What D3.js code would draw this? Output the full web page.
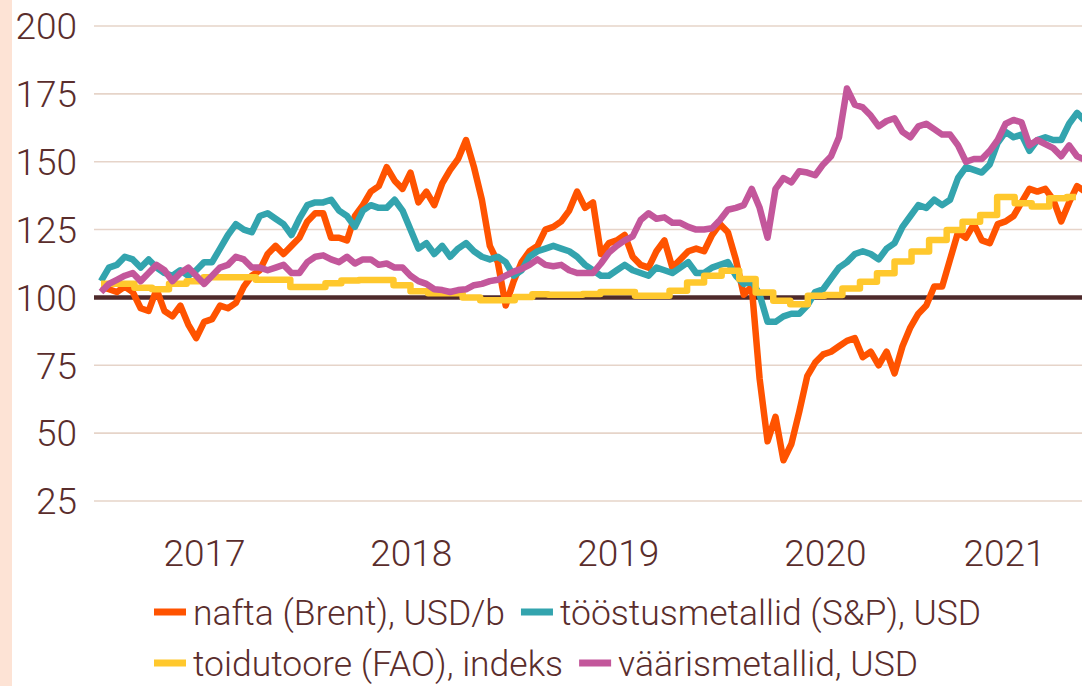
<!DOCTYPE html>
<html>
<head>
<meta charset="utf-8">
<script src="https://cdn.jsdelivr.net/npm/d3@7"></script>
<style>
  body { margin: 0; background: #ffffff; }
  svg { display: block; font-family: Roboto, "Noto Sans", sans-serif; font-weight: 300; }
</style>
</head>
<body>
<script>

// DATI

var startDate = "2017-01-01";
var stepDays = 14;

var oil = [104,103,102,104,102,96,95,103,95,93, 97,90,85,91,92,97,96,98,104,108,
  110,116,119,116,119,122,128,131,131,122, 122,121,130,134,139,141,148,143,140,146,
  135,139,134,142,147,151,158,148,136,119, 113,97,106,113,117,119,125,126,128,132,
  139,133,135,116,120,121,123,115,112,111, 117,121,111,114,117,118,117,123,127,124,
  114,101,104,70,47,56,40,46,58,71, 76,79,80,82,84,85,78,80,75,80,
  72,82,89,94,97,104,104,114,124,122, 127,121,120,127,128,130,135,140,139,140,
  136,128,135,141,139];

var metals = [106,111,112,115,114,111,114,111,109,108, 110,108,110,113,113,118,123,127,125,124,
  130,131,129,127,123,129,134,135,135,136, 132,130,126,132,134,133,133,136,132,125,
  118,120,116,119,115,118,120,117,115,114, 115,113,108,110,115,117,118,119,118,117,
  115,112,110,108,108,110,112,110,109,108, 111,110,109,111,113,109,109,111,112,113,
  108,105,106,101,91,91,93,94,94,97, 102,103,107,111,113,116,117,116,114,118,
  120,126,130,134,133,136,134,136,144,148, 147,146,149,157,161,159,160,154,158,159,
  158,158,164,168,165];

var precious = [102,105,106.5,108,109,106,109,112,110,106, 109,111,108,105,108,111,112,115,114,111,
  111,110,111,112,109,109,113,115,115.5,114, 113,115,112.5,114,114,112,112.5,111,111,108,
  106,105,103,102.7,102,102.7,103,104.5,105,106, 106.5,108,109.5,110.5,112,114,112,111.5,112,110,
  109,109,109,112.5,116.5,119,121,122.5,128.5,131, 129,129.5,127.5,127.5,126,125,125,125.5,128.5,132.3,
  133,134,140,133,122,140,144,142.4,146.5,146, 145,149,152,159,177,171,170,167,163,165,
  166,161,159,163,164,162,160,160,156,150, 151,151,154,158,164,165.4,164.5,156,158,156.5,
  155,152,156,152,150.7];

// FAO: valori mensili
var faoMonths = ["2017-01","2017-02","2017-03","2017-04","2017-05","2017-06","2017-07","2017-08","2017-09","2017-10","2017-11","2017-12",
  "2018-01","2018-02","2018-03","2018-04","2018-05","2018-06","2018-07","2018-08","2018-09","2018-10","2018-11","2018-12",
  "2019-01","2019-02","2019-03","2019-04","2019-05","2019-06","2019-07","2019-08","2019-09","2019-10","2019-11","2019-12",
  "2020-01","2020-02","2020-03","2020-04","2020-05","2020-06","2020-07","2020-08","2020-09","2020-10","2020-11","2020-12",
  "2021-01","2021-02","2021-03","2021-04","2021-05","2021-06","2021-07","2021-08","2021-09"];
var food = [105,105,103.6,103,105,106,107.4,107.4,107.4,106.5,106.5,103.8,
  103.8,105.2,106.2,106.4,106.4,104.5,102.3,101.5,101.5,100,99,99,
  100.2,101.2,101,101,101.3,102,102,100.6,100.6,102.5,105.5,108,
  109.8,106.8,101.8,98.8,97.5,100.6,100.9,103.3,105.8,108.9,113.2,116.9,
  121.2,124.8,127.9,130.4,137,134.7,133.5,136.5,137];
var foodEnd = "2021-09-17";

var yTicks = [25, 50, 75, 100, 125, 150, 175, 200];
var years = [2017, 2018, 2019, 2020, 2021];

var seriesNames = ["nafta (Brent), USD/b", "tööstusmetallid (S&P), USD", "toidutoore (FAO), indeks", "väärismetallid, USD"];
var seriesColors = ["#ff5300", "#33a4ae", "#ffc82d", "#c3579b"];

var textColor = "#5a2d2c";

// SVG

var width = 1082, height = 686;

var svg = d3.select("body")
    .append("svg")
    .attr("width", width)
    .attr("height", height);

// striscia rosa a sinistra
svg.append("rect")
    .attr("x", 0).attr("y", 0)
    .attr("width", 12).attr("height", height)
    .attr("fill", "#fde3d5");

// SCALE

var parseDay = d3.timeParse("%Y-%m-%d");
var parseMonth = d3.timeParse("%Y-%m");

var x = d3.scaleTime()
    .domain([new Date(2017, 0, 1), new Date(2022, 0, 1)])
    .range([101, 1136]);

var y = d3.scaleLinear()
    .domain([25, 200])
    .range([501, 26]);

var start = parseDay(startDate);
var dates = oil.map(function(d, i) { return d3.timeDay.offset(start, i * stepDays); });

// GRIGLIA + ETICHETTE Y

svg.append("g")
    .selectAll("line")
    .data(yTicks.filter(function(d) { return d !== 100; }))
    .join("line")
    .attr("x1", 94).attr("x2", width)
    .attr("y1", function(d) { return y(d); })
    .attr("y2", function(d) { return y(d); })
    .attr("stroke", "#e6d4c9")
    .attr("stroke-width", 1.6);

svg.append("g")
    .selectAll("text")
    .data(yTicks)
    .join("text")
    .attr("x", 77)
    .attr("y", function(d) { return y(d); })
    .attr("dy", "0.36em")
    .attr("text-anchor", "end")
    .attr("font-size", "37px")
    .attr("fill", textColor)
    .text(function(d) { return d; });

// linea 100
svg.append("line")
    .attr("x1", 94).attr("x2", width)
    .attr("y1", y(100)).attr("y2", y(100))
    .attr("stroke", "#4e2a2b")
    .attr("stroke-width", 4.5);

// LINEE

var line = d3.line()
    .x(function(d) { return x(d[0]); })
    .y(function(d) { return y(d[1]); });

var stepLine = d3.line()
    .curve(d3.curveStepAfter)
    .x(function(d) { return x(d[0]); })
    .y(function(d) { return y(d[1]); });

var g = svg.append("g")
    .attr("fill", "none")
    .attr("stroke-width", 6.5)
    .attr("stroke-linejoin", "round");

g.append("path")
    .attr("d", line(oil.map(function(v, i) { return [dates[i], v]; })))
    .attr("stroke", seriesColors[0]);

g.append("path")
    .attr("d", line(metals.map(function(v, i) { return [dates[i], v]; })))
    .attr("stroke", seriesColors[1]);

var foodData = food.map(function(v, i) { return [parseMonth(faoMonths[i]), v]; });
foodData.push([parseDay(foodEnd), food[food.length - 1]]);

g.append("path")
    .attr("d", stepLine(foodData))
    .attr("stroke", seriesColors[2]);

g.append("path")
    .attr("d", line(precious.map(function(v, i) { return [dates[i], v]; })))
    .attr("stroke", seriesColors[3]);

// ETICHETTE ANNI (centro dei dati di ogni anno)

var lastDate = dates[dates.length - 1];
svg.append("g")
    .selectAll("text")
    .data(years)
    .join("text")
    .attr("x", function(yr) {
        var a = new Date(yr, 0, 1), b = new Date(yr + 1, 0, 1);
        if (b > lastDate) b = new Date(2021, 8, 24);
        return (x(a) + x(b)) / 2;
    })
    .attr("y", 566)
    .attr("text-anchor", "middle")
    .attr("font-size", "37px")
    .attr("fill", textColor)
    .text(function(d) { return d; });

// LEGENDA

var legendRows = [[0, 1], [2, 3]];
var rowY = [612, 663];

legendRows.forEach(function(row, r) {
    var cx = 154;
    row.forEach(function(k) {
        svg.append("rect")
            .attr("x", cx).attr("y", rowY[r] - 3.5)
            .attr("width", 32).attr("height", 7)
            .attr("fill", seriesColors[k]);
        var t = svg.append("text")
            .attr("x", cx + 39)
            .attr("y", rowY[r] + 13)
            .attr("font-size", "35.5px")
            .attr("fill", textColor)
            .text(seriesNames[k]);
        cx = cx + 39 + t.node().getComputedTextLength() + 16;
    });
});

</script>
</body>
</html>
